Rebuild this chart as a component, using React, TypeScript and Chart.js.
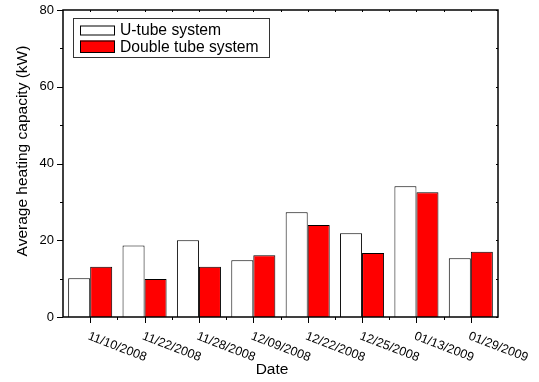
import React, { useEffect, useRef } from 'react';
import { Chart, registerables } from 'chart.js';

Chart.register(...registerables);

const categories = ['11/10/2008', '11/22/2008', '11/28/2008', '12/09/2008', '12/22/2008', '12/25/2008', '01/13/2009', '01/29/2009'];
const uTubeValues = [10.1, 18.6, 20.0, 14.8, 27.3, 21.8, 34.1, 15.3];
const doubleTubeValues = [13.1, 9.9, 13.1, 16.1, 24.0, 16.7, 32.5, 17.0];
const seriesLabels = ['U-tube system', 'Double tube system'];
const yMajorTicks = [0, 20, 40, 60, 80];
const yMinorTicks = [10, 30, 50, 70];
const xTitle = 'Date';
const yTitle = 'Average heating capacity (kW)';

const FONT = '"Liberation Sans", Arial, sans-serif';

const framePlugin = {
  id: 'originFrame',
  afterDraw(chart: any) {
    const ctx = chart.ctx as CanvasRenderingContext2D;
    const { left, right, top, bottom } = chart.chartArea;
    const xs = chart.scales.x;
    const ys = chart.scales.y;
    ctx.save();
    ctx.strokeStyle = '#000';
    ctx.fillStyle = '#000';

    // frame
    ctx.lineWidth = 1.5;
    ctx.strokeRect(left, top, right - left, bottom - top);

    ctx.lineWidth = 1;
    // y ticks
    const yTick = (v: number, len: number, inLen: number) => {
      const py = Math.round(ys.getPixelForValue(v)) + 0.5;
      ctx.beginPath();
      ctx.moveTo(left - len, py);
      ctx.lineTo(left, py);
      ctx.moveTo(right, py);
      ctx.lineTo(right - inLen, py);
      ctx.stroke();
    };
    yMajorTicks.forEach((v) => yTick(v, 6, 2));
    yMinorTicks.forEach((v) => yTick(v, 3, 2));

    ctx.font = `13px ${FONT}`;
    ctx.textAlign = 'right';
    ctx.textBaseline = 'middle';
    yMajorTicks.forEach((v) => {
      ctx.fillText(String(v), left - 9, ys.getPixelForValue(v));
    });

    // x ticks
    const n = categories.length;
    const centers = categories.map((_, i) => xs.getPixelForValue(i));
    const step = n > 1 ? centers[1] - centers[0] : right - left;
    const xTick = (px: number, len: number) => {
      const x = Math.round(px) + 0.5;
      ctx.beginPath();
      ctx.moveTo(x, bottom);
      ctx.lineTo(x, bottom + len);
      ctx.moveTo(x, top);
      ctx.lineTo(x, top + 2);
      ctx.stroke();
    };
    centers.forEach((c) => xTick(c, 6));
    centers.forEach((c, i) => {
      if (i < n - 1) xTick(c + step / 2, 3);
    });

    // rotated x labels
    ctx.font = `12.5px ${FONT}`;
    ctx.textAlign = 'left';
    ctx.textBaseline = 'top';
    centers.forEach((c, i) => {
      ctx.save();
      ctx.translate(c + 0.5, bottom + 13);
      ctx.rotate((21 * Math.PI) / 180);
      ctx.fillText(categories[i], 0, 0);
      ctx.restore();
    });

    // axis titles
    ctx.font = `15.5px ${FONT}`;
    ctx.textAlign = 'center';
    ctx.textBaseline = 'middle';
    ctx.fillText(xTitle, 272, 370);
    ctx.save();
    ctx.translate(22.5, 151);
    ctx.rotate(-Math.PI / 2);
    ctx.fillText(yTitle, 0, 0);
    ctx.restore();

    // legend
    ctx.lineWidth = 1;
    ctx.strokeStyle = '#333';
    ctx.strokeRect(73.5, 18.5, 196, 39);
    const ds = chart.data.datasets;
    const swatchY = [25.5, 40.5];
    const swatchH = [10, 12.5];
    ds.forEach((d: any, i: number) => {
      ctx.fillStyle = d.backgroundColor;
      ctx.fillRect(80, swatchY[i], 35, swatchH[i]);
      ctx.strokeStyle = '#000';
      ctx.strokeRect(80.5, swatchY[i] + 0.5, 34, swatchH[i] - 1);
      ctx.fillStyle = '#000';
      ctx.font = `15.7px ${FONT}`;
      ctx.textAlign = 'left';
      ctx.textBaseline = 'middle';
      ctx.fillText(d.label, 120, swatchY[i] + swatchH[i] / 2 + 0.5);
    });

    ctx.restore();
  },
};

export default function App() {
  const canvasRef = useRef<HTMLCanvasElement | null>(null);

  useEffect(() => {
    document.body.style.margin = '0';
    const canvas = canvasRef.current;
    if (!canvas) return;
    const chart = new Chart(canvas, {
      type: 'bar',
      data: {
        labels: categories,
        datasets: [
          {
            label: seriesLabels[0],
            data: uTubeValues,
            backgroundColor: '#ffffff',
            borderColor: '#000000',
            borderWidth: 1,
            categoryPercentage: 0.81,
            barPercentage: 1.0,
          },
          {
            label: seriesLabels[1],
            data: doubleTubeValues,
            backgroundColor: '#ff0000',
            borderColor: '#000000',
            borderWidth: 1,
            categoryPercentage: 0.81,
            barPercentage: 1.0,
          },
        ],
      },
      options: {
        responsive: false,
        animation: false,
        devicePixelRatio: 1,
        layout: { padding: { left: 63, right: 41, top: 10, bottom: 65 } },
        plugins: { legend: { display: false }, tooltip: { enabled: false } },
        scales: {
          x: {
            type: 'category',
            display: false,
            offset: true,
            grid: { display: false, offset: true },
          },
          y: {
            display: false,
            min: 0,
            max: 80,
            grid: { display: false },
          },
        },
      },
      plugins: [framePlugin],
    });
    return () => chart.destroy();
  }, []);

  return (
    <div style={{ width: 539, height: 382, background: '#fff' }}>
      <canvas ref={canvasRef} width={539} height={382} style={{ display: 'block' }} />
    </div>
  );
}
